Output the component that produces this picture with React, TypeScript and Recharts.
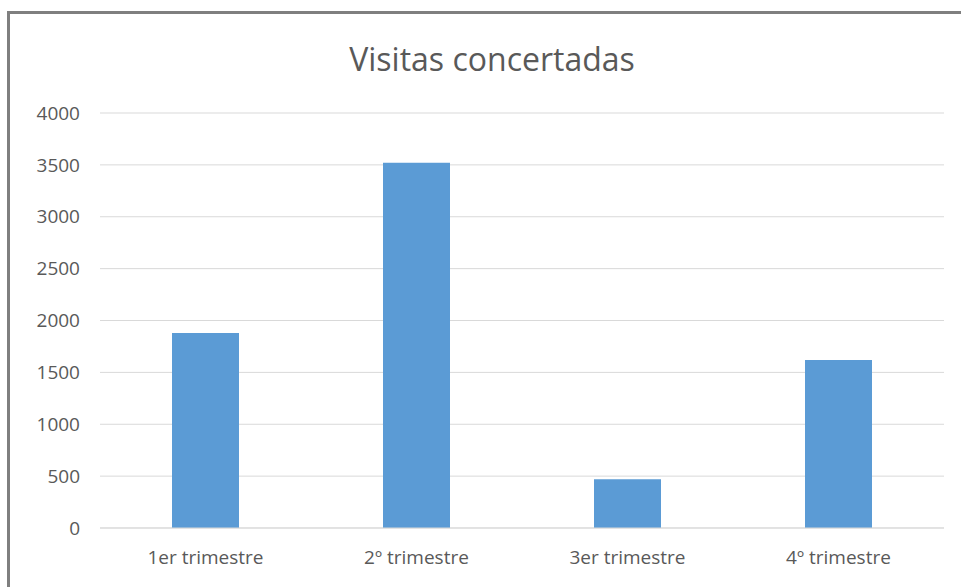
import { Bar, BarChart, CartesianGrid, XAxis, YAxis } from "recharts";

const categories = ["1er trimestre", "2º trimestre", "3er trimestre", "4º trimestre"];
const visitas = [1880, 3520, 470, 1620];
const yTicks = [0, 500, 1000, 1500, 2000, 2500, 3000, 3500, 4000];

const data = categories.map((name, i) => ({ name, visitas: visitas[i] }));

const font = "'Open Sans', sans-serif";
const yTick = { fontSize: 19, fill: "#595959", fontFamily: font };
const xTick = { fontSize: 19, fill: "#595959", fontFamily: font };

export default function App() {
  return (
    <div style={{ position: "fixed", left: 0, top: 0, width: 961, height: 587, overflow: "hidden", background: "white" }}>
      <div
        style={{
          position: "absolute", left: 7, top: 11, width: 1000, height: 640,
          border: "3px solid #7f7f7f", boxSizing: "border-box",
        }}
      />
      <div
        style={{
          position: "absolute", left: 0, top: 37, width: 984, textAlign: "center",
          fontFamily: font, fontSize: 32, color: "#595959", lineHeight: "44px",
        }}
      >
        Visitas concertadas
      </div>
      <div style={{ position: "absolute", left: 0, top: 0 }}>
        <BarChart width={961} height={587} data={data} margin={{ top: 113, right: 17, left: 40, bottom: 29 }}>
          <CartesianGrid stroke="#d9d9d9" vertical={false} />
          <XAxis
            dataKey="name" tick={xTick} axisLine={{ stroke: "#d9d9d9" }} tickLine={false}
            tickSize={0} tickMargin={23} height={30} interval={0}
          />
          <YAxis
            domain={[0, 4000]} ticks={yTicks} tick={yTick} axisLine={false} tickLine={false}
            tickSize={0} tickMargin={20} width={60}
          />
          <Bar dataKey="visitas" fill="#5b9bd5" barSize={67} isAnimationActive={false} />
        </BarChart>
      </div>
    </div>
  );
}
